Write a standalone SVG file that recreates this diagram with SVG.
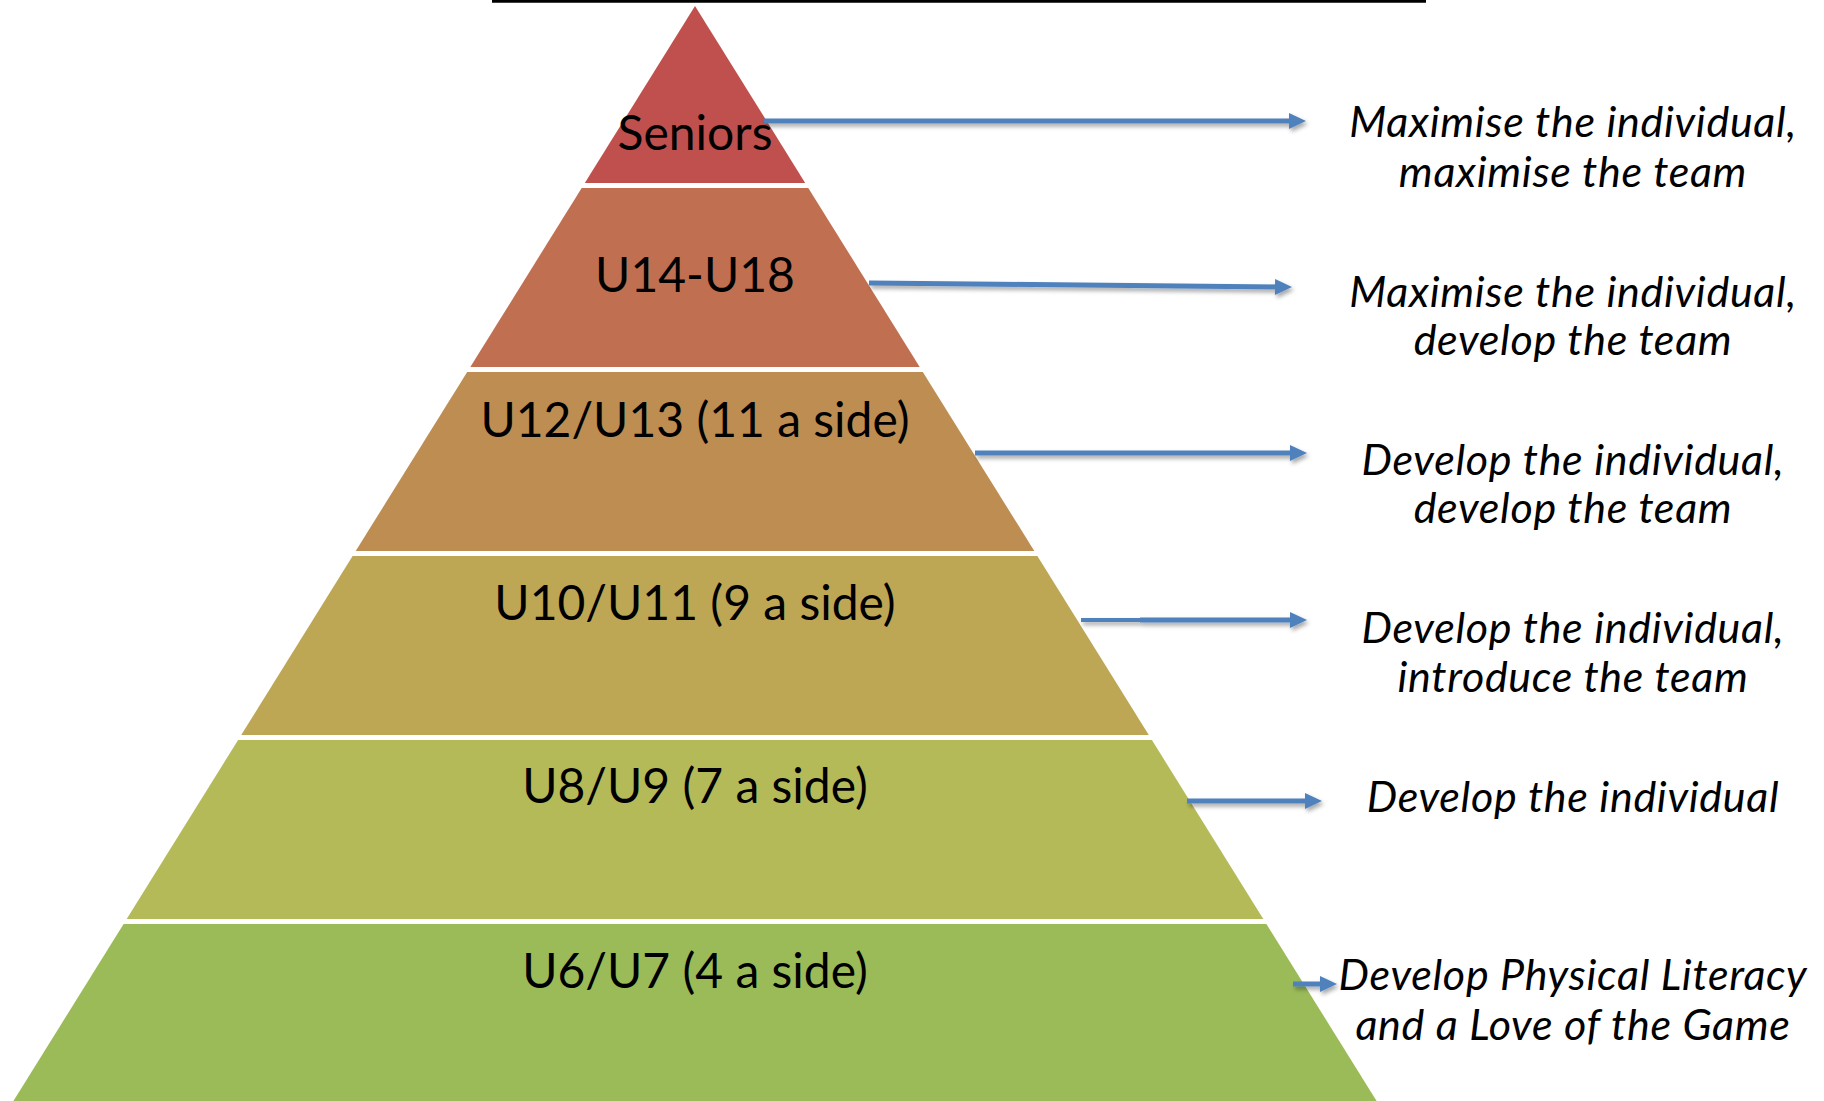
<svg xmlns="http://www.w3.org/2000/svg" width="1824" height="1101" viewBox="0 0 1824 1101">
  <style>
    .lbl { font-family: Lato, "Open Sans", "Liberation Sans", sans-serif; font-size: 48px; fill: #000; text-anchor: middle; }
    .desc { font-family: Lato, "Open Sans", "Liberation Sans", sans-serif; font-size: 43px; letter-spacing: 0.7px; font-style: italic; fill: #000; text-anchor: middle; }
    .arr { stroke: #4F81BD; stroke-width: 5; fill: none; marker-end: url(#head); }
  </style>
  <defs>
    <marker id="head" markerUnits="userSpaceOnUse" markerWidth="18" markerHeight="17" refX="6" refY="8.5" orient="auto">
      <path d="M0,0.5 L17,8.5 L0,16.5 Z" fill="#4F81BD"/>
    </marker>
    <filter id="shadow" x="-5%" y="-100%" width="110%" height="300%">
      <feDropShadow dx="2" dy="3" stdDeviation="2" flood-color="#000" flood-opacity="0.35"/>
    </filter>
  </defs>
  <rect width="1824" height="1101" fill="#fff"/>
  <line x1="492" y1="1.2" x2="1426" y2="1.2" stroke="#000" stroke-width="3"/>

  <g id="tier-seniors">
    <polygon points="695,6 805.2,183 584.8,183" fill="#C0504D"/>
    <text class="lbl" x="695" y="150">Seniors</text>
  </g>
  <g id="tier-u14-u18">
    <polygon points="581.7,188 808.3,188 919.7,367 470.3,367" fill="#C07050"/>
    <text class="lbl" x="695" y="292">U14-U18</text>
  </g>
  <g id="tier-u12-u13">
    <polygon points="467.2,372 922.8,372 1034.3,551 355.7,551" fill="#BE8D51"/>
    <text class="lbl" x="695" y="437">U12/U13 (11 a side)</text>
  </g>
  <g id="tier-u10-u11">
    <polygon points="352.6,556 1037.4,556 1148.8,735 241.2,735" fill="#BDA755"/>
    <text class="lbl" x="695" y="620">U10/U11 (9 a side)</text>
  </g>
  <g id="tier-u8-u9">
    <polygon points="238.1,740 1151.9,740 1263.3,919 126.7,919" fill="#B5BA59"/>
    <text class="lbl" x="695" y="803">U8/U9 (7 a side)</text>
  </g>
  <g id="tier-u6-u7">
    <polygon points="123.6,924 1266.4,924 1376.6,1101 13.4,1101" fill="#9BBB59"/>
    <text class="lbl" x="695" y="988">U6/U7 (4 a side)</text>
  </g>

  <g id="desc-seniors">
    <text class="desc" x="1573" y="137">Maximise the individual,</text>
    <text class="desc" x="1573" y="187">maximise the team</text>
  </g>
  <g id="desc-u14-u18">
    <text class="desc" x="1573" y="307">Maximise the individual,</text>
    <text class="desc" x="1573" y="355">develop the team</text>
  </g>
  <g id="desc-u12-u13">
    <text class="desc" x="1573" y="475">Develop the individual,</text>
    <text class="desc" x="1573" y="523">develop the team</text>
  </g>
  <g id="desc-u10-u11">
    <text class="desc" x="1573" y="643">Develop the individual,</text>
    <text class="desc" x="1573" y="692">introduce the team</text>
  </g>
  <g id="desc-u8-u9">
    <text class="desc" x="1573" y="812">Develop the individual</text>
  </g>
  <g id="desc-u6-u7">
    <text class="desc" x="1573" y="990">Develop Physical Literacy</text>
    <text class="desc" x="1573" y="1040">and a Love of the Game</text>
  </g>

  <g id="connectors" filter="url(#shadow)">
    <line class="arr" x1="764" y1="121" x2="1295" y2="121"/>
    <line class="arr" x1="869" y1="283" x2="1281" y2="287"/>
    <line class="arr" x1="975" y1="453" x2="1296" y2="453"/>
    <line x1="1081" y1="620" x2="1145" y2="620" stroke="#4F81BD" stroke-width="4"/>
    <line class="arr" x1="1140" y1="620" x2="1296" y2="620" stroke-width="5.5"/>
    <line class="arr" x1="1187" y1="801" x2="1311" y2="801"/>
    <line class="arr" x1="1293" y1="984" x2="1326" y2="984"/>
  </g>
</svg>
